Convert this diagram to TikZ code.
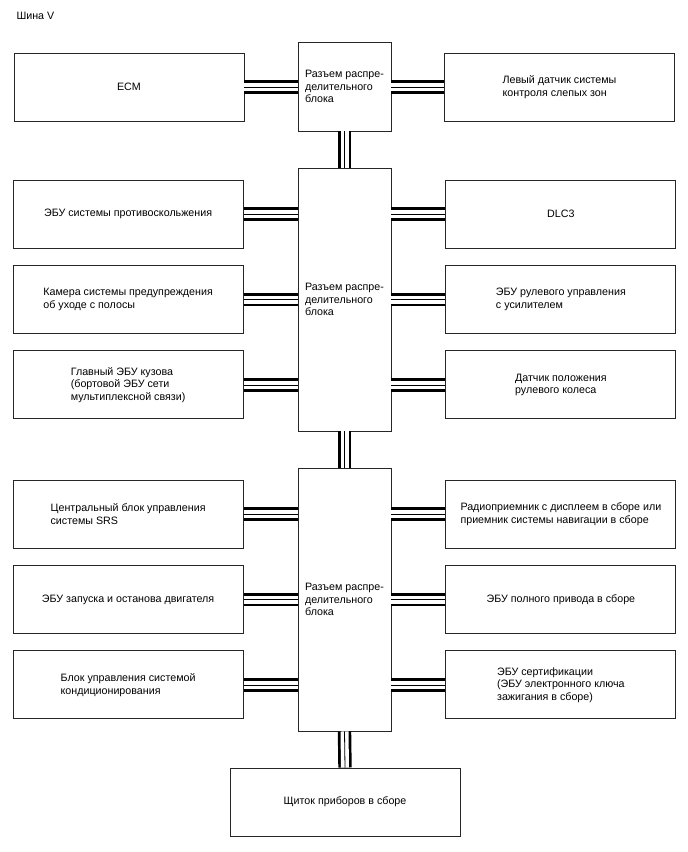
\documentclass[tikz,border=0pt]{standalone}
\usepackage{fontspec}
\setmainfont{Liberation Sans}
\usetikzlibrary{positioning}
\definecolor{LineGrey}{HTML}{262626}

\begin{document}
\begin{tikzpicture}[x=1pt,y=1pt,font=\fontsize{10.7}{12.5}\selectfont,
    unit/.style={draw=LineGrey,line width=0.9pt,minimum width=230pt,minimum height=68pt,align=left,inner sep=0pt},
    joint/.style={draw=LineGrey,line width=0.9pt,minimum width=93pt,align=left,inner sep=0pt},
    bus/.style={draw=white,line width=8pt,preaction={draw=black,line width=13.4pt},postaction={draw=black,line width=0.8pt}}]
  \useasboundingbox (0,0) rectangle (688,-852);
  \node[anchor=west] (title) at (13,-16) {Шина V};
  % blocs de raccordement
  \node[joint,minimum height=89pt] (blk1) at (344.5,-86.5) {Разъем распре-\\делительного\\блока};
  \node[joint,minimum height=263pt] (blk2) at (344.5,-299.5) {Разъем распре-\\делительного\\блока};
  \node[joint,minimum height=263pt] (blk3) at (344.5,-599.5) {Разъем распре-\\делительного\\блока};
  % rangee du haut
  \node[unit] (ecm) at (129,-87) {ECM};
  \node[unit] (bsm) at (559.5,-87) {Левый датчик системы\\контроля слепых зон};
  % rangees du bloc central
  \node[unit,left=54pt of blk2] (lka) {Камера системы предупреждения\\об уходе с полосы};
  \node[unit,above=16.5pt of lka] (abs) {ЭБУ системы противоскольжения};
  \node[unit,below=16.5pt of lka] (body) {Главный ЭБУ кузова\\(бортовой ЭБУ сети\\мультиплексной связи)};
  \node[unit,right=54pt of blk2] (eps) {ЭБУ рулевого управления\\с усилителем};
  \node[unit,above=16.5pt of eps] (dlc) {DLC3};
  \node[unit,below=16.5pt of eps] (sas) {Датчик положения\\рулевого колеса};
  % rangees du bloc inferieur
  \node[unit,left=54pt of blk3] (eng) {ЭБУ запуска и останова двигателя};
  \node[unit,above=16.5pt of eng] (srs) {Центральный блок управления\\системы SRS};
  \node[unit,below=16.5pt of eng] (ac) {Блок управления системой\\кондиционирования};
  \node[unit,right=54pt of blk3] (awd) {ЭБУ полного привода в сборе};
  \node[unit,above=16.5pt of awd] (nav) {Радиоприемник с дисплеем в сборе или\\приемник системы навигации в сборе};
  \node[unit,below=16.5pt of awd] (key) {ЭБУ сертификации\\(ЭБУ электронного ключа\\зажигания в сборе)};
  \node[unit] (meter) at (345,-802) {Щиток приборов в сборе};
  % bus
  \foreach \u/\b in {ecm/blk1,abs/blk2,lka/blk2,body/blk2,srs/blk3,eng/blk3,ac/blk3}
    \draw[bus] (\u.east) -- (\u.east -| \b.west);
  \foreach \u/\b in {bsm/blk1,dlc/blk2,eps/blk2,sas/blk2,nav/blk3,awd/blk3,key/blk3}
    \draw[bus] (\u.west) -- (\u.west -| \b.east);
  \draw[bus] (blk1.south) -- (blk2.north);
  \draw[bus] (blk2.south) -- (blk3.north);
  \draw[bus] (blk3.south) -- (meter.north);
\end{tikzpicture}
\end{document}
